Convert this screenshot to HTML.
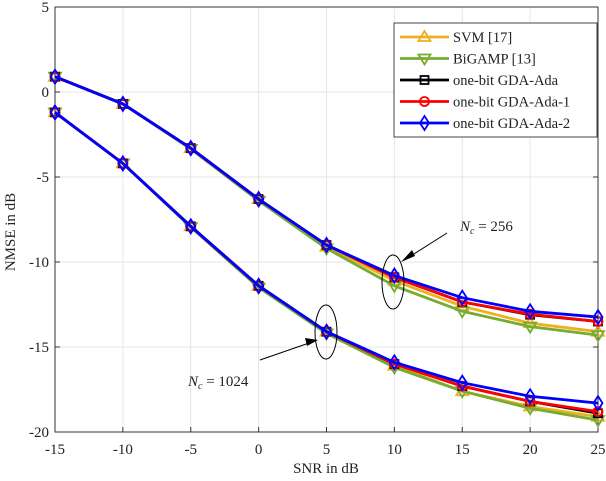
<!DOCTYPE html>
<html><head><meta charset="utf-8"><style>
body{margin:0;background:#fff;}
svg text{font-family:"Liberation Serif",serif;fill:#222;}
</style></head><body>
<svg id="chart" width="606" height="476" viewBox="0 0 606 476" xmlns="http://www.w3.org/2000/svg">
<g id="grid"></g>
<g id="axes"></g>
<g id="series"></g>
<g>
<ellipse cx="393" cy="282" rx="11" ry="27" fill="none" stroke="#000" stroke-width="1"/>
<line x1="447" y1="233" x2="406" y2="259" stroke="#000" stroke-width="1"/>
<polygon points="401,262 412,250 415,256" fill="#000"/>
<text x="460" y="231" font-size="15"><tspan font-style="italic">N</tspan><tspan font-style="italic" font-size="10" dy="3">c</tspan><tspan dy="-3"> = 256</tspan></text>
</g>
<g>
<ellipse cx="326" cy="332" rx="11" ry="27" fill="none" stroke="#000" stroke-width="1"/>
<line x1="260" y1="360" x2="312" y2="342" stroke="#000" stroke-width="1"/>
<polygon points="318,340 305,338 307,346" fill="#000"/>
<text x="188" y="386" font-size="15"><tspan font-style="italic">N</tspan><tspan font-style="italic" font-size="10" dy="3">c</tspan><tspan dy="-3"> = 1024</tspan></text>
</g>
<text x="326" y="473" font-size="15" text-anchor="middle">SNR in dB</text>
<text x="0" y="0" font-size="15" text-anchor="middle" transform="translate(15,232) rotate(-90)">NMSE in dB</text>
<g id="legend"></g>
</svg>
<script>
const snr=[-15,-10,-5,0,5,10,15,20,25];
const xTicks=[-15,-10,-5,0,5,10,15,20,25];
const yTicks=[5,0,-5,-10,-15,-20];
const names=["SVM [17]","BiGAMP [13]","one-bit GDA-Ada","one-bit GDA-Ada-1","one-bit GDA-Ada-2"];
const colors=["#EDB120","#77AC30","#000000","#FF0000","#0000FF"];
const markers=["tri-up","tri-down","square","circle","diamond"];
const svm256=[0.9,-0.7,-3.3,-6.3,-9.1,-11.1,-12.6,-13.6,-14.1];
const bigamp256=[0.9,-0.7,-3.35,-6.4,-9.2,-11.4,-12.9,-13.8,-14.3];
const gda256=[0.9,-0.7,-3.3,-6.3,-9.0,-10.9,-12.35,-13.1,-13.5];
const gda1_256=[0.9,-0.7,-3.3,-6.3,-9.0,-10.9,-12.35,-13.07,-13.5];
const gda2_256=[0.9,-0.7,-3.3,-6.3,-9.0,-10.8,-12.1,-12.9,-13.24];
const svm1024=[-1.2,-4.2,-7.9,-11.4,-14.1,-16.1,-17.6,-18.5,-19.1];
const bigamp1024=[-1.2,-4.2,-7.95,-11.5,-14.2,-16.2,-17.6,-18.6,-19.3];
const gda1024=[-1.2,-4.2,-7.9,-11.4,-14.1,-16.0,-17.3,-18.2,-18.9];
const gda1_1024=[-1.2,-4.2,-7.9,-11.4,-14.1,-16.0,-17.3,-18.2,-18.8];
const gda2_1024=[-1.2,-4.2,-7.9,-11.4,-14.1,-15.9,-17.1,-17.9,-18.3];
const series256=[svm256,bigamp256,gda256,gda1_256,gda2_256];
const series1024=[svm1024,bigamp1024,gda1024,gda1_1024,gda2_1024];

const X0=55,X1=598,Y0=7,Y1=432;
const xs=v=>X0+(v-(-15))/40*(X1-X0);
const ys=v=>Y0+(5-v)/25*(Y1-Y0);
const NS="http://www.w3.org/2000/svg";
function mk(tag,attrs,parent){const e=document.createElementNS(NS,tag);for(const k in attrs)e.setAttribute(k,attrs[k]);parent.appendChild(e);return e;}
const grid=document.getElementById('grid'),axes=document.getElementById('axes'),ser=document.getElementById('series'),leg=document.getElementById('legend');
xTicks.forEach(t=>{const x=xs(t);
 const g=mk('line',{x1:x,x2:x,y1:Y0,y2:Y1,stroke:'#e6e6e6','stroke-width':1},grid);
 
 
 mk('line',{x1:x,x2:x,y1:Y1,y2:Y1-5,stroke:'#333'},axes);
 const tx=mk('text',{x:x,y:Y1+22,'font-size':15,'text-anchor':'middle'},axes);tx.textContent=t;
 
 
});
yTicks.forEach(t=>{const y=ys(t);
 const g=mk('line',{x1:X0,x2:X1,y1:y,y2:y,stroke:'#e6e6e6','stroke-width':1},grid);
 
 
 mk('line',{x1:X0,x2:X0+5,y1:y,y2:y,stroke:'#333'},axes);
 mk('line',{x1:X1,x2:X1-5,y1:y,y2:y,stroke:'#333'},axes);
 const tx=mk('text',{x:X0-6,y:y+5,'font-size':15,'text-anchor':'end'},axes);tx.textContent=t;
 
 
});
mk('rect',{x:X0,y:Y0,width:X1-X0,height:Y1-Y0,fill:'none',stroke:'#333','stroke-width':1},axes);
function marker(kind,x,y,c,parent){
 const a={fill:'none',stroke:c,'stroke-width':1.8};
 let e;
 if(kind==='tri-up')e=mk('polygon',Object.assign({points:`${x},${y-6} ${x-6},${y+4} ${x+6},${y+4}`},a),parent);
 else if(kind==='tri-down')e=mk('polygon',Object.assign({points:`${x},${y+6} ${x-6},${y-4} ${x+6},${y-4}`},a),parent);
 else if(kind==='square')e=mk('rect',Object.assign({x:x-4,y:y-4,width:8,height:8},a),parent);
 else if(kind==='circle')e=mk('circle',Object.assign({cx:x,cy:y,r:4.5},a),parent);
 else e=mk('polygon',Object.assign({points:`${x},${y-7} ${x-4.5},${y} ${x},${y+7} ${x+4.5},${y}`},a),parent);
 
 
}
[series256,series1024].forEach((grp,gi)=>{
 grp.forEach((vals,i)=>{
  const pts=vals.map((v,j)=>xs(snr[j])+','+ys(v)).join(' ');
  const pl=mk('polyline',{points:pts,fill:'none',stroke:colors[i],'stroke-width':2.8},ser);
  
  
  vals.forEach((v,j)=>marker(markers[i],xs(snr[j]),ys(v),colors[i],ser));
 });
});
mk('rect',{x:394,y:23,width:203,height:114,fill:'#fff',stroke:'#444','stroke-width':1},leg);
names.forEach((n,i)=>{const y=37+i*21.5;
 const l=mk('line',{x1:400,x2:449,y1:y,y2:y,stroke:colors[i],'stroke-width':2.8},leg);
 
 
 marker(markers[i],424.5,y,colors[i],leg);
 const t=mk('text',{x:453,y:y+5,'font-size':14.5},leg);t.textContent=n;
 
 
});
</script>
</body></html>
